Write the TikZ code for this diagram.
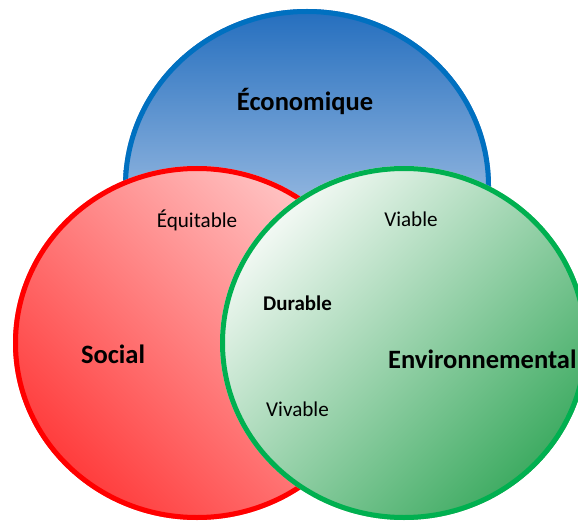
\documentclass[tikz,border=0pt]{standalone}
\usepackage{fontspec}
\setmainfont{Carlito}
\definecolor{bline}{RGB}{0,112,192}
\definecolor{btop}{RGB}{36,110,190}
\definecolor{bmid}{RGB}{188,200,234}
\definecolor{bbot}{RGB}{235,240,250}
\definecolor{rline}{RGB}{255,0,0}
\definecolor{rtop}{RGB}{255,202,202}
\definecolor{rbot}{RGB}{255,55,55}
\definecolor{gline}{RGB}{0,176,80}
\definecolor{gtop}{RGB}{250,252,250}
\definecolor{gbot}{RGB}{55,168,92}
\begin{document}
\begin{tikzpicture}[x=1bp,y=-1bp,
  ring/.style={line width=5bp},
  bigtxt/.style={inner sep=0pt,font=\fontsize{26.6}{30}\selectfont\bfseries},
  midtxt/.style={inner sep=0pt,font=\fontsize{21}{25}\selectfont\bfseries},
  regtxt/.style={inner sep=0pt,font=\fontsize{21.2}{25}\selectfont}]
\useasboundingbox (0,0) rectangle (578,521);
\clip (0,0) rectangle (578,521);
\coordinate (bc) at (307,186);
\coordinate (rc) at (197,343);
\coordinate (gc) at (404,343);
% blue
\begin{scope}
  \clip (bc) ellipse [x radius=184, y radius=177];
  \shade[top color=btop, middle color=bmid, bottom color=bbot] (bc) ++(-185,-177) rectangle ++(370,354);
\end{scope}
\draw[ring, bline] (bc) ellipse [x radius=181.5, y radius=174.5];
% red
\begin{scope}
  \clip (rc) ellipse [x radius=184, y radius=177];
  \begin{scope}[transform canvas={rotate around={-45:(rc)}}]
    \shade[top color=rtop, bottom color=rbot] (rc) ++(-192,-192) rectangle ++(384,384);
  \end{scope}
\end{scope}
\draw[ring, rline] (rc) ellipse [x radius=181.5, y radius=174.5];
% green
\begin{scope}
  \clip (gc) ellipse [x radius=184, y radius=177];
  \begin{scope}[transform canvas={rotate around={45:(gc)}}]
    \shade[top color=gtop, bottom color=gbot] (gc) ++(-192,-192) rectangle ++(384,384);
  \end{scope}
\end{scope}
\draw[ring, gline] (gc) ellipse [x radius=181.5, y radius=174.5];
% labels
\node[bigtxt, anchor=base] (eco) at (305,111) {Économique};
\node[regtxt, anchor=base] (equ) at (197,228) {Équitable};
\node[regtxt, anchor=base] (via) at (411,227) {Viable};
\node[midtxt, anchor=base] (dur) at (297.5,310) {Durable};
\node[bigtxt, anchor=base] (soc) at (113,363) {Social};
\node[bigtxt, anchor=base west] (env) at (388,368) {Environnemental};
\node[regtxt, anchor=base] (viv) at (297.5,416) {Vivable};
\end{tikzpicture}
\end{document}
